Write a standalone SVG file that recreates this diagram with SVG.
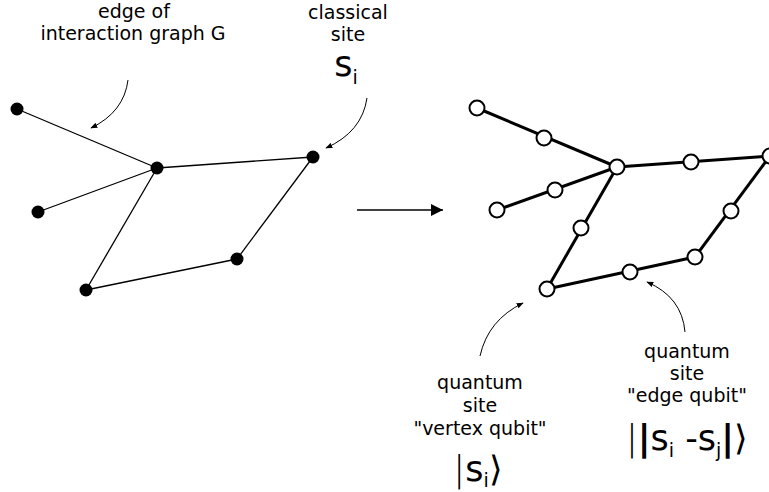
<svg xmlns="http://www.w3.org/2000/svg" width="769" height="492" viewBox="0 0 769 492">
<defs>
<style>
.t{font-family:"DejaVu Sans","Liberation Sans",sans-serif;font-size:19px;fill:#000;text-anchor:middle}
.m{font-family:"DejaVu Sans","Liberation Sans",sans-serif;font-size:35px;fill:#000;text-anchor:middle}
.thin{stroke:#000;stroke-width:1.3;fill:none}
.thick{stroke:#000;stroke-width:3;fill:none}
.cur{stroke:#000;stroke-width:1;fill:none}
.dot{fill:#000}
.q{fill:#fff;stroke:#000;stroke-width:2}
</style>
<marker id="ah" viewBox="0 0 10 10" refX="9" refY="5" markerWidth="7" markerHeight="7" markerUnits="userSpaceOnUse" orient="auto">
<path d="M0,1 L10,5 L0,9 z" fill="#000"/>
</marker>
<marker id="big" viewBox="0 0 10 10" refX="10" refY="5" markerWidth="14" markerHeight="12" markerUnits="userSpaceOnUse" orient="auto">
<path d="M0,0 L10,5 L0,10 z" fill="#000"/>
</marker>
</defs>
<rect width="769" height="492" fill="#fff"/>
<g id="connectors">
<line class="thin" x1="17" y1="109" x2="157" y2="168"/>
<line class="thin" x1="38" y1="212" x2="157" y2="168"/>
<line class="thin" x1="157" y1="168" x2="86" y2="290"/>
<line class="thin" x1="157" y1="168" x2="313" y2="157"/>
<line class="thin" x1="313" y1="157" x2="237" y2="259"/>
<line class="thin" x1="237" y1="259" x2="86" y2="290"/>
<line class="thick" x1="477" y1="108" x2="617" y2="167"/>
<line class="thick" x1="497" y1="210" x2="617" y2="167"/>
<line class="thick" x1="617" y1="167" x2="770" y2="156"/>
<line class="thick" x1="617" y1="167" x2="547" y2="289"/>
<line class="thick" x1="547" y1="289" x2="695" y2="257"/>
<line class="thick" x1="695" y1="257" x2="770" y2="156"/>
<line x1="357" y1="210" x2="443" y2="210" stroke="#000" stroke-width="1.5" marker-end="url(#big)"/>
<path class="cur" d="M128,80 Q124,112 91,128" marker-end="url(#ah)"/>
<path class="cur" d="M367,98 Q362,132 326,148" marker-end="url(#ah)"/>
<path class="cur" d="M480,356 Q488,320 523,303" marker-end="url(#ah)"/>
<path class="cur" d="M685,332 Q682,297 647,282" marker-end="url(#ah)"/>
</g>
<g id="classical-nodes">
<circle id="A" class="dot" cx="17" cy="109" r="6.5"/>
<circle id="B" class="dot" cx="157" cy="168" r="6.5"/>
<circle id="C" class="dot" cx="38" cy="212" r="6.5"/>
<circle id="D" class="dot" cx="86" cy="290" r="6.5"/>
<circle id="E" class="dot" cx="237" cy="259" r="6.5"/>
<circle id="F" class="dot" cx="313" cy="157" r="6.5"/>
</g>
<g id="quantum-nodes">
<circle id="qa" class="q" cx="477" cy="108" r="7.5"/>
<circle id="qb" class="q" cx="544" cy="138" r="7.5"/>
<circle id="qc" class="q" cx="617" cy="167" r="7.5"/>
<circle id="qd" class="q" cx="691" cy="162" r="7.5"/>
<circle id="qe" class="q" cx="770" cy="156" r="7.5"/>
<circle id="qf" class="q" cx="555" cy="190" r="7.5"/>
<circle id="qg" class="q" cx="497" cy="210" r="7.5"/>
<circle id="qh" class="q" cx="581" cy="228" r="7.5"/>
<circle id="qi" class="q" cx="547" cy="289" r="7.5"/>
<circle id="qj" class="q" cx="630" cy="272" r="7.5"/>
<circle id="qk" class="q" cx="695" cy="257" r="7.5"/>
<circle id="ql" class="q" cx="731" cy="211" r="7.5"/>
</g>
<g id="label-edge">
<text class="t" x="134" y="18">edge of</text>
<text class="t" x="133" y="40">interaction graph G</text>
</g>
<g id="label-classical">
<text class="t" x="348" y="19">classical</text>
<text class="t" x="348" y="41">site</text>
<text class="m" x="346" y="76">s<tspan font-size="19" dy="8">i</tspan></text>
</g>
<g id="label-vertex">
<text class="t" x="480" y="389">quantum</text>
<text class="t" x="480" y="412">site</text>
<text class="t" x="480" y="435">"vertex qubit"</text>
<text class="m" x="478" y="481"><tspan font-weight="200">|</tspan>s<tspan font-size="19" dy="6">i</tspan><tspan dy="-6" font-weight="200">⟩</tspan></text>
</g>
<g id="label-edgequbit">
<text class="t" x="687" y="358">quantum</text>
<text class="t" x="687" y="380">site</text>
<text class="t" x="687" y="402">"edge qubit"</text>
<text class="m" x="687" y="450" font-size="33"><tspan font-weight="200">|</tspan><tspan font-weight="bold">|</tspan>s<tspan font-size="19" dy="7">i</tspan><tspan dy="-7"> -s</tspan><tspan font-size="19" dy="7">j</tspan><tspan dy="-7" font-weight="bold">|</tspan><tspan font-weight="200">⟩</tspan></text>
</g>
</svg>
